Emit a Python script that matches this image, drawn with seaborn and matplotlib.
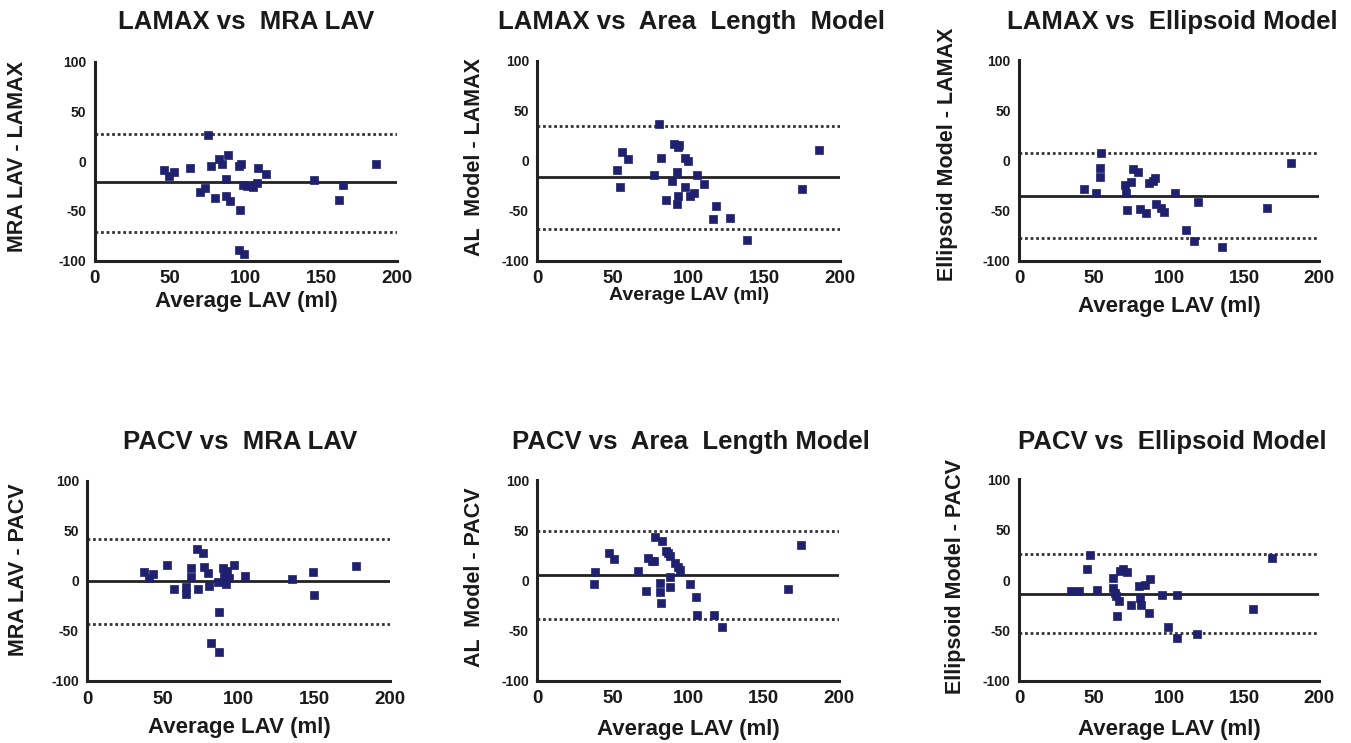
import numpy as np
import pandas as pd
import matplotlib
matplotlib.use("Agg")
import matplotlib.pyplot as plt
import seaborn as sns

sns.set_theme(style="white")
plt.rcParams['font.family'] = ['Liberation Sans', 'DejaVu Sans']
plt.rcParams['axes.unicode_minus'] = False

# ---------------- data ----------------
titles = ["LAMAX vs  MRA LAV", "LAMAX vs  Area  Length  Model", "LAMAX vs  Ellipsoid Model",
          "PACV vs  MRA LAV", "PACV vs  Area  Length Model", "PACV vs  Ellipsoid Model"]
ylabels = ["MRA LAV - LAMAX", "AL  Model - LAMAX", "Ellipsoid Model - LAMAX",
           "MRA LAV - PACV", "AL  Model - PACV", "Ellipsoid Model - PACV"]
xlabel = "Average LAV (ml)"
xticks = [0, 50, 100, 150, 200]
yticks = [-100, -50, 0, 50, 100]

p1_x = [46.3, 49.6, 52.7, 63.5, 69.9, 72.8, 75.4, 77.4, 80.0, 82.7, 84.5, 86.7, 87.3, 88.6, 89.7,
        95.5, 97.2, 96.6, 95.7, 98.8, 98.6, 101.0, 105.2, 107.8, 108.5, 113.3, 145.3, 162.0, 164.7, 186.3]
p1_y = [-8.4, -15.0, -11.0, -6.4, -31.0, -27.0, 26.8, -4.4, -36.5, 2.7, -3.0, -35.0, -17.8, 6.7, -40.0,
        -4.4, -3.0, -49.0, -89.0, -93.0, -24.0, -25.0, -26.0, -22.4, -6.4, -13.0, -18.4, -38.5, -24.0, -2.7]

p2_x = [52.6, 54.6, 55.7, 59.7, 77.3, 80.2, 81.5, 85.0, 89.2, 90.3, 92.0, 92.5, 93.0, 93.4, 93.2,
        97.6, 97.8, 99.3, 100.9, 103.5, 105.3, 109.9, 116.3, 118.0, 127.0, 138.3, 174.7, 186.3]
p2_y = [-9.3, -26.0, 9.3, 2.3, -14.0, 36.7, 3.0, -39.4, -20.0, 16.7, -43.7, -11.4, 13.4, 16.0, -35.4,
        -26.0, 3.0, 0.0, -35.0, -32.0, -13.7, -22.7, -58.0, -45.0, -57.4, -79.5, -27.7, 10.4]

p3_x = [43.3, 51.1, 54.9, 54.2, 54.2, 70.4, 71.1, 72.2, 74.4, 75.8, 79.6, 80.7, 84.7, 86.9, 89.1,
        90.9, 91.6, 94.4, 96.4, 104.2, 111.1, 116.7, 119.6, 135.1, 165.6, 181.1]
p3_y = [-28.9, -32.9, 7.6, -8.0, -16.3, -24.6, -32.2, -49.5, -21.3, -8.6, -11.3, -48.8, -52.8, -22.9, -20.6,
        -17.3, -43.5, -47.8, -51.0, -32.9, -69.4, -80.0, -42.0, -86.7, -47.2, -3.0]

p4_x = [37.4, 40.5, 43.4, 52.4, 57.5, 65.2, 65.2, 68.5, 68.5, 72.2, 73.1, 76.7, 77.1, 79.5, 80.4,
        81.9, 86.6, 87.2, 87.2, 89.4, 90.3, 91.4, 92.1, 93.4, 97.1, 104.4, 135.0, 148.9, 150.0, 177.5]
p4_y = [9.0, 3.3, 7.0, 15.7, -7.7, -6.3, -13.0, 13.3, 3.7, 32.3, -8.3, 28.3, 14.3, 7.7, -5.0,
        -61.7, -1.3, -30.7, -70.7, 13.3, 5.0, -3.3, 10.0, 2.7, 16.3, 5.3, 2.3, 8.7, -14.3, 15.3]

p5_x = [37.9, 37.7, 47.6, 51.1, 66.7, 71.8, 73.1, 76.2, 77.5, 78.2, 81.3, 81.5, 82.2, 82.6, 85.0,
        86.6, 87.7, 88.1, 87.7, 91.4, 92.9, 94.7, 100.9, 105.1, 106.0, 116.7, 122.5, 166.3, 174.4]
p5_y = [8.6, -3.7, 27.6, 21.3, 9.0, -10.3, 22.3, 19.6, 19.3, 43.5, -3.0, -11.3, -23.0, 39.2, 29.6,
        27.6, 24.3, 3.0, -6.3, 17.0, 13.6, 10.3, -3.7, -17.0, -34.9, -34.9, -46.2, -9.0, 35.2]

p6_x = [34.4, 40.2, 45.3, 47.3, 51.8, 62.4, 62.9, 64.0, 64.7, 65.6, 66.9, 67.3, 69.1, 72.2, 74.7,
        79.8, 80.7, 81.1, 83.8, 86.9, 87.3, 95.6, 99.6, 105.6, 105.1, 118.9, 156.2, 168.9]
p6_y = [-10.9, -10.9, 10.6, 25.2, -9.9, 2.3, -8.3, -12.6, -15.9, -35.8, -20.5, 9.3, 11.0, 7.6, -24.8,
        -6.0, -18.2, -24.8, -5.0, -32.5, 1.0, -14.9, -46.7, -14.9, -57.9, -53.6, -28.8, 22.2]

bias = [-20.8, -16.0, -35.5, 0.0, 5.6, -13.9]
upper_loa = [27.1, 34.7, 7.6, 41.7, 49.2, 26.2]
lower_loa = [-71.0, -67.8, -77.7, -42.7, -38.5, -52.6]

xs = [p1_x, p2_x, p3_x, p4_x, p5_x, p6_x]
ys = [p1_y, p2_y, p3_y, p4_y, p5_y, p6_y]

# ---------------- layout (pixels) ----------------
W, H = 1351, 743
# left, right, top, bottom of each plot area
boxes = [(94.5, 396.7, 61.7, 260.7), (537.3, 840.0, 61.0, 260.7), (1019.0, 1319.0, 60.0, 260.7),
         (87.3, 390.0, 481.0, 681.0), (537.3, 839.3, 480.0, 680.7), (1019.0, 1319.0, 479.3, 680.7)]
title_pos = [(246.5, 22), (691.5, 22), (1172, 22), (240, 442), (691, 442), (1172, 442)]
ylabel_pos = [(18, 156), (475, 157), (947, 154), (19, 570), (475, 577), (956, 576)]
xlabel_pos = [(246, 301), (689, 295), (1169, 307), (239, 728), (688, 729), (1169, 729)]
xlabel_size = [16, 14, 16, 16, 16, 16]

txt = "#1a1a1a"
pt_color = "#1f216e"

fig = plt.figure(figsize=(W / 100, H / 100), dpi=100)
fig.patch.set_facecolor("white")

for i in range(6):
    l, r, t, b = boxes[i]
    ax = fig.add_axes([l / W, 1 - b / H, (r - l) / W, (b - t) / H])
    df = pd.DataFrame({"avg": xs[i], "diff": ys[i]})
    ax.axhline(bias[i], color="#222222", lw=2.0, zorder=2)
    ax.axhline(upper_loa[i], color="#333333", lw=2.0, ls=(0, (1, 1)), zorder=2)
    ax.axhline(lower_loa[i], color="#333333", lw=2.0, ls=(0, (1, 1)), zorder=2)
    sns.scatterplot(data=df, x="avg", y="diff", ax=ax, marker="s", s=26,
                    color=pt_color, edgecolor=pt_color, linewidth=0.5, zorder=3)
    ax.set_xlim(0, 200)
    ax.set_ylim(-100, 100)
    ax.set_xticks(xticks)
    ax.set_yticks(yticks)
    ax.set_xlabel("")
    ax.set_ylabel("")
    ax.set_facecolor("white")
    for s in ["top", "right"]:
        ax.spines[s].set_visible(False)
    for s in ["left", "bottom"]:
        ax.spines[s].set_linewidth(2.2)
        ax.spines[s].set_color("#222222")
    ax.tick_params(axis="both", direction="out", length=5, width=2, color="#222222")
    ax.tick_params(axis="y", labelsize=10, pad=1)
    ax.tick_params(axis="x", labelsize=13.5, pad=2)
    for lab in ax.get_xticklabels() + ax.get_yticklabels():
        lab.set_fontweight("bold")
        lab.set_color(txt)
    ax.grid(False)

    tx, ty = title_pos[i]
    fig.text(tx / W, 1 - ty / H, titles[i], ha="center", va="center",
             fontsize=18.5, fontweight="bold", color=txt)
    yx, yy = ylabel_pos[i]
    fig.text(yx / W, 1 - yy / H, ylabels[i], ha="center", va="center", rotation=90,
             fontsize=15.5, fontweight="bold", color=txt)
    xx, xy = xlabel_pos[i]
    fig.text(xx / W, 1 - xy / H, xlabel, ha="center", va="center",
             fontsize=xlabel_size[i], fontweight="bold", color=txt)

fig.savefig("out.png", dpi=100, facecolor="white")
